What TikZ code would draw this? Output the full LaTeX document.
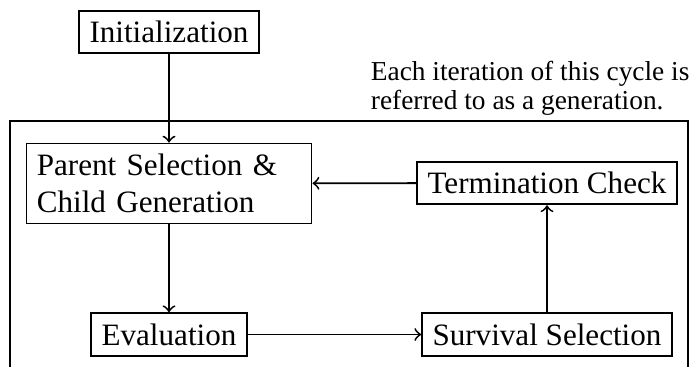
\documentclass[tikz,border=0pt]{standalone}
\usepackage{fontspec}
\setmainfont{Liberation Serif}
\tikzset{>=to}

\begin{document}
\begin{tikzpicture}[x=0.3215pt,y=-0.3215pt,semithick,
        stage/.style={draw,inner sep=3.33pt},
        note/.style={align=left,inner sep=0pt,font=\fontsize{8.8}{9.3}\selectfont}]
        \useasboundingbox (0,0) rectangle (690,367);
        % stages
        \node[stage] (init) at (169,32) {Initialization};
        \node[stage,text width=85pt,align=left] (parent) at (169,183.5) {Parent Selection \&\\Child Generation};
        \node[stage] (term) at (547,183) {Termination Check};
        \node[stage] (eval) at (169,334.5) {Evaluation};
        \node[stage] (surv) at (547,334.5) {Survival Selection};
        % cycle frame
        \coordinate (frameL) at (10,367);
        \coordinate (frameR) at (688,367);
        \draw (frameL) |- (688,121) -- (frameR);
        \node[note,anchor=north west] (cap) at (370,60) {Each iteration of this cycle is\\referred to as a generation.};
        % arrows
        \draw[->] (init) -- (parent);
        \draw[->] (parent) -- (eval);
        \draw[->] (eval) -- (surv);
        \draw[->] (surv) -- (term);
        \draw[->] (term) -- (parent);
    \end{tikzpicture}
\end{document}
